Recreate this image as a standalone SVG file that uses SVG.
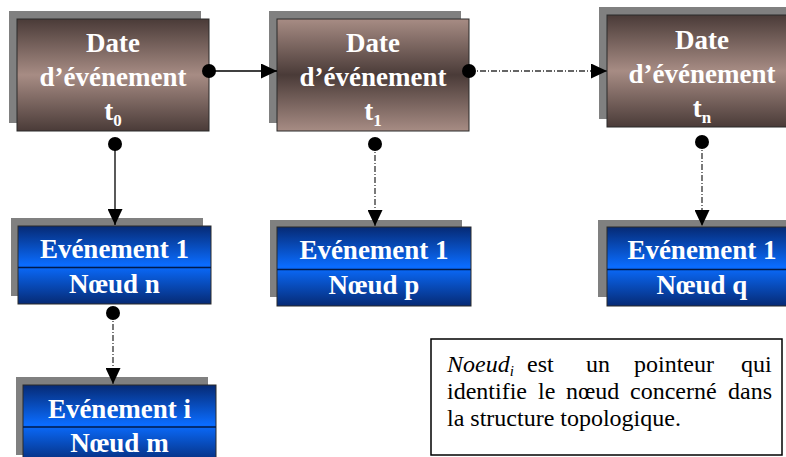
<svg xmlns="http://www.w3.org/2000/svg" width="786" height="457" viewBox="0 0 786 457">
<defs>
<linearGradient id="brownA" x1="0" y1="0" x2="0" y2="1">
<stop offset="0" stop-color="#4a3b38"/><stop offset="0.5" stop-color="#a78c84"/><stop offset="1" stop-color="#4a3b38"/>
</linearGradient>
<linearGradient id="brownB" x1="0" y1="0" x2="0" y2="1">
<stop offset="0" stop-color="#a78c84"/><stop offset="0.5" stop-color="#4a3b38"/><stop offset="1" stop-color="#a78c84"/>
</linearGradient>
<linearGradient id="blue" x1="0" y1="0" x2="0" y2="1">
<stop offset="0" stop-color="#062a74"/><stop offset="0.5" stop-color="#0a6cff"/><stop offset="1" stop-color="#062a74"/>
</linearGradient>
<marker id="arrow" viewBox="0 0 16 15" refX="16" refY="7.5" markerWidth="16" markerHeight="15" markerUnits="userSpaceOnUse" orient="auto">
<path d="M0,0 L16,7.5 L0,15 z" fill="#000"/>
</marker>
<marker id="dot" viewBox="-8 -8 16 16" refX="0" refY="0" markerWidth="16" markerHeight="16" markerUnits="userSpaceOnUse">
<circle r="7" fill="#000"/>
</marker>
</defs>
<style>
.shadow{fill:#808080}
.box{stroke:#2a2a2a;stroke-width:1}
.title{font-family:"Liberation Serif","Times New Roman",serif;font-weight:bold;font-size:27px;fill:#fff;text-anchor:middle}
.sub{font-size:17px}
.div{stroke:#001a4a;stroke-width:1.5}
.solid{stroke:#000;stroke-width:1.3;fill:none}
.dashdot{stroke:#333;stroke-width:1.3;fill:none;stroke-dasharray:6 2 1 2}
.note{font-family:"Liberation Serif","Times New Roman",serif;font-size:24px;fill:#000}
</style>

<g id="date-t0">
<rect class="shadow" x="9" y="11" width="192" height="112"/>
<rect class="box" x="17" y="19" width="192" height="112" fill="url(#brownA)"/>
<text class="title" x="113" y="52">Date</text>
<text class="title" x="113" y="86">d’événement</text>
<text class="title" x="113" y="120">t<tspan class="sub" dy="6">0</tspan></text>
</g>

<g id="date-t1">
<rect class="shadow" x="269" y="11" width="192" height="112"/>
<rect class="box" x="277" y="19" width="192" height="112" fill="url(#brownB)"/>
<text class="title" x="373" y="52">Date</text>
<text class="title" x="373" y="86">d’événement</text>
<text class="title" x="373" y="120">t<tspan class="sub" dy="6">1</tspan></text>
</g>

<g id="date-tn">
<rect class="shadow" x="599" y="7" width="192" height="112"/>
<rect class="box" x="607" y="15" width="192" height="112" fill="url(#brownA)"/>
<text class="title" x="702" y="49">Date</text>
<text class="title" x="702" y="83">d’événement</text>
<text class="title" x="702" y="117">t<tspan class="sub" dy="6">n</tspan></text>
</g>

<g id="event-n">
<rect class="shadow" x="11" y="218" width="192" height="78"/>
<rect class="box" x="18" y="226" width="193" height="78" fill="url(#blue)"/>
<line class="div" x1="18" y1="267.5" x2="211" y2="267.5"/>
<text class="title" x="114.5" y="258">Evénement 1</text>
<text class="title" x="114.5" y="293">Nœud n</text>
</g>

<g id="event-p">
<rect class="shadow" x="270" y="220" width="192" height="77"/>
<rect class="box" x="277" y="227" width="194" height="79" fill="url(#blue)"/>
<line class="div" x1="277" y1="269.5" x2="471" y2="269.5"/>
<text class="title" x="374" y="259">Evénement 1</text>
<text class="title" x="374" y="294">Nœud p</text>
</g>

<g id="event-q">
<rect class="shadow" x="598" y="220" width="192" height="77"/>
<rect class="box" x="607" y="227" width="193" height="79" fill="url(#blue)"/>
<line class="div" x1="607" y1="269.5" x2="800" y2="269.5"/>
<text class="title" x="702" y="259">Evénement 1</text>
<text class="title" x="702" y="294">Nœud q</text>
</g>

<g id="event-m">
<rect class="shadow" x="16" y="377" width="192" height="78"/>
<rect class="box" x="23" y="385" width="193" height="79" fill="url(#blue)"/>
<line class="div" x1="23" y1="427" x2="216" y2="427"/>
<text class="title" x="119.5" y="418">Evénement i</text>
<text class="title" x="119.5" y="452">Nœud m</text>
</g>

<g id="connectors">
<line class="solid" x1="209" y1="71" x2="277" y2="71" marker-start="url(#dot)" marker-end="url(#arrow)"/>
<line class="dashdot" x1="469" y1="71" x2="607" y2="71" marker-start="url(#dot)" marker-end="url(#arrow)"/>
<line class="solid" x1="115" y1="144" x2="115" y2="225" marker-start="url(#dot)" marker-end="url(#arrow)"/>
<line class="dashdot" x1="375" y1="144" x2="375" y2="226" marker-start="url(#dot)" marker-end="url(#arrow)"/>
<line class="dashdot" x1="702" y1="142" x2="702" y2="226" marker-start="url(#dot)" marker-end="url(#arrow)"/>
<line class="dashdot" x1="113" y1="313" x2="113" y2="384" marker-start="url(#dot)" marker-end="url(#arrow)"/>
</g>

<g id="note">
<rect x="431" y="339" width="351" height="116" fill="#fff" stroke="#000" stroke-width="1.5"/>
<text class="note" y="372"><tspan x="447" font-style="italic">Noeud<tspan font-size="15" dy="4">i</tspan></tspan><tspan x="527" dy="-4">est</tspan><tspan x="586">un</tspan><tspan x="634">pointeur</tspan><tspan x="741">qui</tspan></text>
<text class="note" y="399"><tspan x="447">identifie</tspan><tspan x="538">le</tspan><tspan x="566">nœud</tspan><tspan x="630">concerné</tspan><tspan x="728">dans</tspan></text>
<text class="note" x="447" y="426">la structure topologique.</text>
</g>
</svg>
